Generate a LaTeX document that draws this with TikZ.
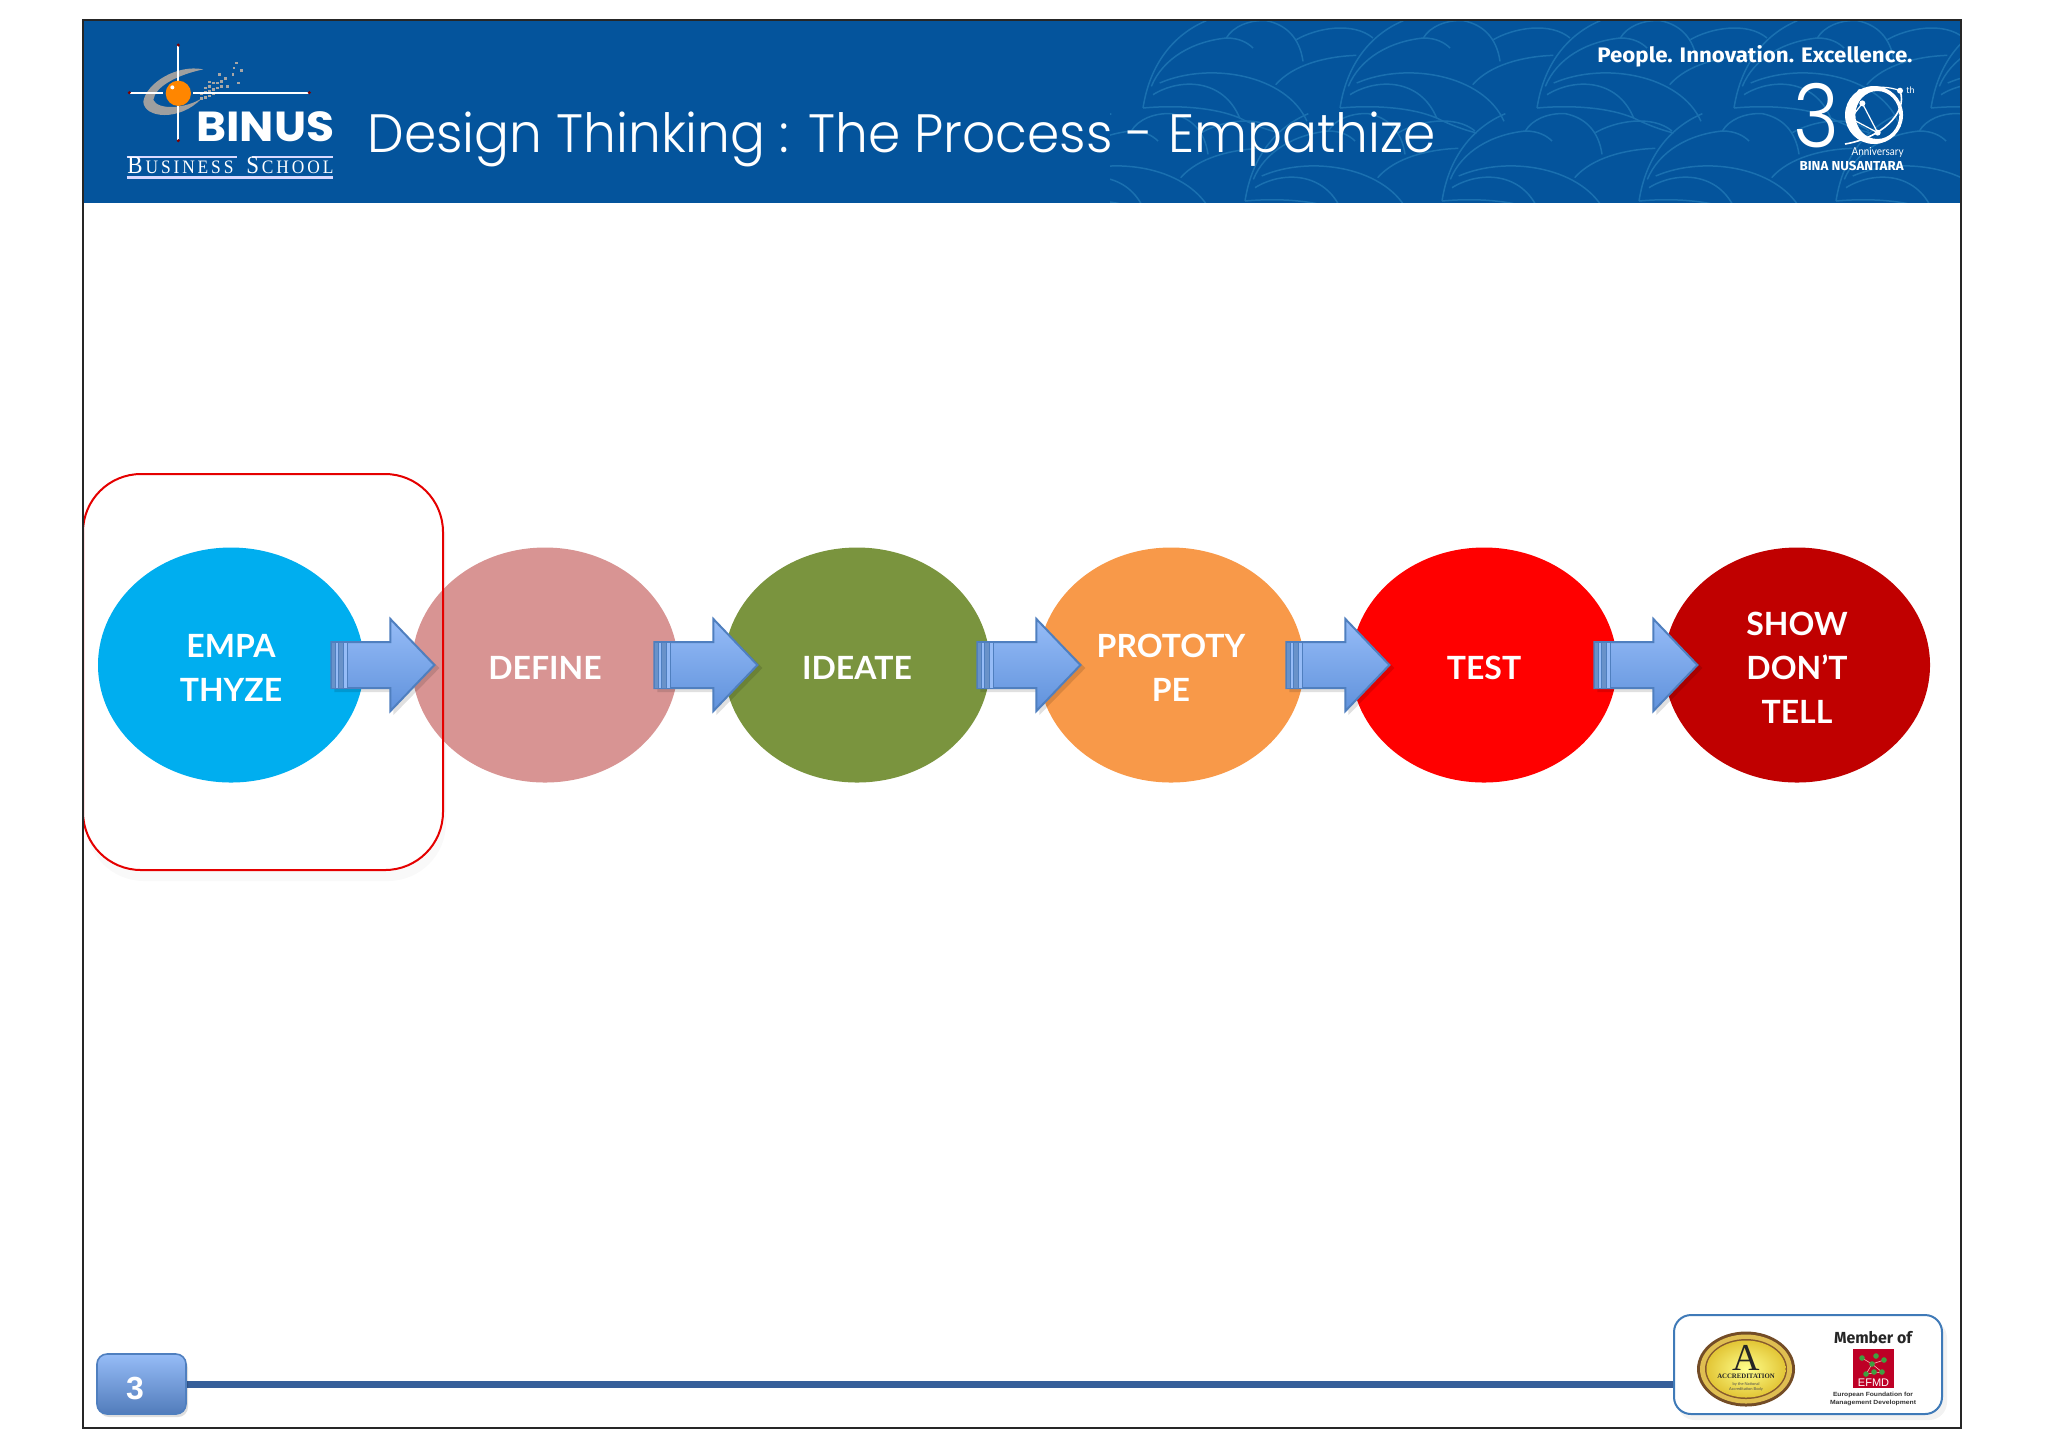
\documentclass[tikz,border=0pt]{standalone}
\usepackage{fontspec}
\usepackage{graphicx}
\usetikzlibrary{shapes.geometric,calc}
\setmainfont{Lato}
\newfontfamily\titlef{Poppins Light}
\newfontfamily\binusf{Poppins}
\newfontfamily\labelf{Lato}
\newfontfamily\hfont{Liberation Sans}
\newfontfamily\sfont{Liberation Serif}
\newfontfamily\fira{Fira Sans}
\newcommand{\fitx}[2]{\resizebox{#1}{\height}{#2}}
\definecolor{hdr}{HTML}{04549C}
\definecolor{hline}{HTML}{1A70B0}
\definecolor{arrE}{HTML}{4F7FBF}
\definecolor{arrT}{HTML}{96BCF7}
\definecolor{arrB}{HTML}{6092DC}
\definecolor{foot}{HTML}{365F9A}
\tikzset{
  circ/.style={ellipse,minimum width=133pt,minimum height=117.5pt,inner sep=0pt},
  lab/.style={inner sep=0pt,text=white,align=center,yshift=-1.25pt,font=\labelf\bfseries\fontsize{16}{22}\selectfont},
  ptn/.style={draw=hline,line width=0.75pt},
  txt/.style={inner sep=0pt,text=white},
  stripeA/.style={fill=arrE!85!white,draw=arrE,line width=0.5pt},
  stripeB/.style={fill=arrT,draw=arrE,line width=0.5pt}
}
\newcommand{\tile}[2]{%
\begin{scope}[shift={(#1-43.33,#2-93.33)},scale=1/3]
 \draw[ptn] (130,280) .. controls (150,150) and (220,60) .. (320,18);
 \draw[ptn] (155,215) .. controls (190,130) and (280,80) .. (380,70) .. controls (420,70) and (445,85) .. (460,100);
 \draw[ptn] (380,70) .. controls (400,35) and (450,15) .. (500,18) .. controls (560,30) and (600,70) .. (610,140);
 \draw[ptn] (160,240) .. controls (240,190) and (370,190) .. (420,310);
 \draw[ptn] (180,205) .. controls (330,140) and (560,180) .. (622,320);
 \draw[ptn] (528,210) .. controls (580,150) and (680,125) .. (770,122);
 \draw[ptn] (590,75) .. controls (650,40) and (760,20) .. (820,70);
 \draw[ptn] (130,280) .. controls (240,270) and (350,280) .. (420,310) .. controls (460,330) and (500,345) .. (540,355);
\end{scope}}
\newcommand{\blockarrow}[2]{%
\begin{scope}[shift={($(#1.east)+(#2,0)$)}]
 \fill[black,opacity=0.12] (3,-20) -- (62,-20) -- (62,-43) -- (108,3) -- (62,50) -- (62,27) -- (3,27) -- cycle;
 \draw[arrE,line width=1pt,top color=arrT,bottom color=arrB] (0,-23) -- (59,-23) -- (59,-46) -- (103,0) -- (59,46) -- (59,23) -- (0,23) -- cycle;
 \draw[stripeA] (0,-23) rectangle (4,23);
 \draw[stripeB] (4,-23) rectangle (7,23);
 \draw[stripeA] (7,-23) rectangle (12,23);
 \draw[stripeB] (12,-23) rectangle (16,23);
\end{scope}}
\begin{document}
\begin{tikzpicture}[x=0.5pt,y=-0.5pt]
\useasboundingbox (0,0) rectangle (2048,1448);
\fill[white] (0,0) rectangle (2048,1448);
% header
\fill[hdr] (83,20) rectangle (1961,203);
\begin{scope}
 \clip (1110,21) rectangle (1960,202);
 \foreach \k in {0,1,2,3,4}{ \tile{1143+197*\k}{108} \tile{1245+197*\k-197}{201} }
\end{scope}
% logo
\begin{scope}[shift={(120,40)},scale=1/3]
 \fill[gray!75] (250,88) .. controls (170,72) and (78,130) .. (70,185) .. controls (72,235) and (180,245) .. (245,175) .. controls (200,205) and (115,212) .. (100,180) .. controls (105,140) and (170,105) .. (250,88) -- cycle;
 \foreach \p/\q in {240/172,252/168,264/164,276/158,240/158,252/154,264/150,276/145,288/140,252/140,264/135,276/125,288/125,300/120,312/112,318/135,335/100,338/80,345/65,360/88,352/125,295/100,264/122,300/135}
  { \fill[gray!70] (\p,\q) rectangle ++(8,8); }
 \draw[white,line width=1pt] (175,15) -- (175,302);
 \draw[white,line width=1pt] (28,158) -- (130,158);
 \draw[white,line width=1pt] (220,158) -- (568,158);
 \foreach \p/\q in {175/15,175/302,28/158,568/158}{ \fill[red!50!black] (\p,\q) circle (5); }
 \fill[orange!95!yellow] (175,160) circle (38);
 \fill[white] (157,142) circle (6);
 \draw[white!85!blue,line width=1pt] (20,350) -- (350,350) (395,350) -- (640,350);
 \draw[white!85!blue,line width=1.2pt] (20,412) -- (640,412);
\end{scope}
\node[txt,anchor=base west] (binus) at (196,141) {\fitx{69pt}{\binusf\bfseries\fontsize{21}{21}\selectfont BINUS}};
\node[txt,anchor=base west] (bschool) at (127,173) {\fitx{103pt}{\sfont\fontsize{12.5}{12}\selectfont B\fontsize{9.5}{12}\selectfont\,U\,S\,I\,N\,E\,S\,S\hspace{7pt}\fontsize{12.5}{12}\selectfont S\fontsize{9.5}{12}\selectfont\,C\,H\,O\,O\,L}};
\node[txt,anchor=base west] (title) at (367,152) {\fitx{534pt}{\titlef\fontsize{27}{30}\selectfont Design Thinking : The Process - Empathize}};
\node[txt,anchor=base west] (tag) at (1597,62) {\fitx{157.5pt}{\fira\bfseries\fontsize{10.5}{12}\selectfont People. Innovation. Excellence.}};
% 30 logo
\node[txt,anchor=base] (three) at (1816,147) {\fitx{23pt}{\titlef\fontsize{44}{44}\selectfont 3}};
\begin{scope}[shift={(1780,70)},scale=1/3]
 \fill[white,even odd rule] (282,135) circle (87) (292,135) ellipse (66 and 72);
 \draw[white,line width=0.6pt] (240,65) -- (212,145) -- (293,188) -- (247,100) -- (212,145);
 \draw[white,line width=0.6pt] (240,65) .. controls (280,45) and (330,50) .. (360,62);
 \draw[white,line width=0.8pt] (360,62) .. controls (385,130) and (300,205) .. (195,222);
 \foreach \p/\q/\r in {240/65/8,247/100/9,212/145/10,293/188/9,360/62/9}{ \fill[white] (\p,\q) circle (\r); }
\end{scope}
\node[txt,anchor=base west] (th) at (1906,93) {\fontsize{4.5}{5}\selectfont th};
\node[txt,anchor=base east] (anniv) at (1904,155) {\fitx{26pt}{\fontsize{5.5}{6}\selectfont Anniversary}};
\node[txt,anchor=base east] (bina) at (1904,170) {\fitx{52pt}{\fira\bfseries\fontsize{6.5}{7}\selectfont BINA NUSANTARA}};
% process
\fill[black,opacity=0.025,rounded corners=29pt] (86,481) rectangle (446,881);
\fill[white,rounded corners=29pt] (83,474) rectangle (443,870);
\node[circ,fill={rgb,255:red,0;green,174;blue,239},label={[lab,name=l1]center:{EMPA\\THYZE}}] (e1) at (231,665) {};
\node[circ,fill={rgb,255:red,216;green,148;blue,147},label={[lab,name=l2]center:{DEFINE}}] (e2) at (545,665) {};
\node[circ,fill={rgb,255:red,122;green,148;blue,62},label={[lab,name=l3]center:{IDEATE}}] (e3) at (857,665) {};
\node[circ,fill={rgb,255:red,248;green,153;blue,73},label={[lab,name=l4]center:{PROTOTY\\PE}}] (e4) at (1171,665) {};
\node[circ,fill={rgb,255:red,255;green,0;blue,0},label={[lab,name=l5]center:{TEST}}] (e5) at (1484,665) {};
\node[circ,fill={rgb,255:red,192;green,0;blue,0},label={[lab,name=l6]center:{SHOW\\DON’T\\TELL}}] (e6) at (1797,665) {};
\draw[red!90!black,line width=1pt,rounded corners=29pt] (83,474) rectangle (443,870);
\blockarrow{e1}{-33}
\blockarrow{e2}{-24}
\blockarrow{e3}{-13}
\blockarrow{e4}{-18}
\blockarrow{e5}{-23}
% footer
\draw[foot,line width=3.5pt] (186,1384) -- (1676,1384);
\fill[black,opacity=0.13,rounded corners=5pt] (99,1358) rectangle (188,1417);
\node[draw=arrE,line width=0.8pt,rounded corners=5pt,minimum width=44.5pt,minimum height=30pt,inner sep=0pt,top color=arrT,bottom color=arrB!85!black,text=white,font=\hfont\bfseries\fontsize{16}{16}\selectfont] (page) at (141.5,1384) {\raisebox{-7.5pt}[0pt][0pt]{\hspace{-6.5pt}3}};
\fill[black,opacity=0.05,rounded corners=9pt] (1677,1320) rectangle (1947,1420);
\node[draw={rgb,255:red,63;green,122;blue,184},fill=white,line width=1pt,rounded corners=8.5pt,minimum width=134pt,minimum height=49.5pt,inner sep=0pt] (badge) at (1808,1364.5) {};
% accreditation seal
\fill[black!0!brown!60!black] (1746,1369) ellipse (49 and 37.5);
\fill[yellow!40!brown!90!white] (1746,1369) ellipse (46 and 34.5);
\fill[brown!70!black] (1746,1369) ellipse (41 and 30);
\shade[inner color=yellow!45!white,outer color=yellow!50!brown!90!white] (1746,1369) ellipse (39.5 and 28.5);
\node[inner sep=0pt,text=black!85,font=\sfont\fontsize{19}{19}\selectfont] (bigA) at (1746,1358) {A};
\node[inner sep=0pt,text=black!85,font=\sfont\bfseries\fontsize{3.4}{4}\selectfont] (accr) at (1746,1376) {ACCREDITATION};
\node[inner sep=0pt,text=black!70,align=center,font=\labelf\fontsize{2}{2.6}\selectfont] (accb) at (1746,1387) {by the National\\Accreditation Body};
\node[inner sep=0pt,text=black!85,anchor=center] (member) at (1873,1338) {\fitx{39pt}{\fira\bfseries\fontsize{8}{9}\selectfont Member of}};
\fill[red!70!black!85!magenta] (1853,1349) rectangle (1894,1388);
\foreach \a/\b/\c/\d in {1862/1358/1872/1364,1872/1364/1884/1360,1872/1364/1866/1374,1872/1364/1882/1372,1866/1374/1882/1372}{ \draw[white!70!red,line width=0.3pt] (\a,\b) -- (\c,\d); }
\foreach \a/\b in {1862/1358,1872/1364,1884/1360,1866/1374,1882/1372,1876/1356,1874/1372}{ \fill[green!50!black!75!white] (\a,\b) circle (2.8); }
\node[inner sep=0pt,text=white,font=\hfont\fontsize{5.5}{6}\selectfont] (efmd) at (1873.5,1383) {EFMD};
\node[inner sep=0pt,text=black!80] (efn1) at (1873,1394.5) {\fitx{40pt}{\hfont\bfseries\fontsize{3}{3.5}\selectfont European Foundation for}};
\node[inner sep=0pt,text=black!80] (efn2) at (1873,1403) {\fitx{43pt}{\hfont\bfseries\fontsize{3}{3.5}\selectfont Management Development}};
% frame
\draw[black!85,line width=1pt] (83,20) rectangle (1961,1428);
\end{tikzpicture}
\end{document}
